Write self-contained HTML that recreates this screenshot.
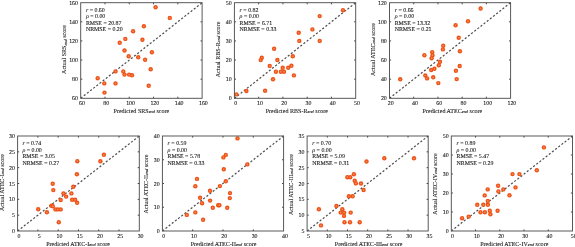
<!DOCTYPE html>
<html><head><meta charset="utf-8"><style>
html,body{margin:0;padding:0;background:#fff;}
body{width:575px;height:247px;overflow:hidden;}
svg{display:block;will-change:transform;}
text{font-family:"Liberation Serif",serif;fill:#111;stroke:#111;stroke-width:0.08px;text-rendering:geometricPrecision;}
.tl{font-size:5.9px;}
.st{font-size:5.9px;}
.al{font-size:6.05px;}
.sb{font-style:italic;font-size:4.36px;}
.bx{fill:none;stroke:#505050;stroke-width:0.95;}
.tk{fill:none;stroke:#333;stroke-width:0.9;}
.dl{stroke:#4a4a4a;stroke-width:1.2;stroke-dasharray:2.1 1.9;}
.d{fill:#ee5216;}
.dc{fill:#f58c5c;}
</style></head><body>
<svg width="575" height="247" viewBox="0 0 575 247">
<rect width="575" height="247" fill="#fff"/>
<g>
<g><line x1="80.70" y1="98.30" x2="202.10" y2="2.70" class="dl"/><circle cx="155.60" cy="7.30" r="2.2" class="d"/><circle cx="155.60" cy="7.30" r="0.85" class="dc"/><circle cx="169.80" cy="17.90" r="2.2" class="d"/><circle cx="169.80" cy="17.90" r="0.85" class="dc"/><circle cx="143.90" cy="26.30" r="2.2" class="d"/><circle cx="143.90" cy="26.30" r="0.85" class="dc"/><circle cx="133.10" cy="31.20" r="2.2" class="d"/><circle cx="133.10" cy="31.20" r="0.85" class="dc"/><circle cx="142.40" cy="39.80" r="2.2" class="d"/><circle cx="142.40" cy="39.80" r="0.85" class="dc"/><circle cx="125.30" cy="38.90" r="2.2" class="d"/><circle cx="125.30" cy="38.90" r="0.85" class="dc"/><circle cx="119.70" cy="42.70" r="2.2" class="d"/><circle cx="119.70" cy="42.70" r="0.85" class="dc"/><circle cx="124.50" cy="50.50" r="2.2" class="d"/><circle cx="124.50" cy="50.50" r="0.85" class="dc"/><circle cx="151.90" cy="52.30" r="2.2" class="d"/><circle cx="151.90" cy="52.30" r="0.85" class="dc"/><circle cx="128.70" cy="56.20" r="2.2" class="d"/><circle cx="128.70" cy="56.20" r="0.85" class="dc"/><circle cx="138.20" cy="57.30" r="2.2" class="d"/><circle cx="138.20" cy="57.30" r="0.85" class="dc"/><circle cx="145.10" cy="59.70" r="2.2" class="d"/><circle cx="145.10" cy="59.70" r="0.85" class="dc"/><circle cx="150.70" cy="69.30" r="2.2" class="d"/><circle cx="150.70" cy="69.30" r="0.85" class="dc"/><circle cx="132.00" cy="75.30" r="2.2" class="d"/><circle cx="132.00" cy="75.30" r="0.85" class="dc"/><circle cx="129.10" cy="74.60" r="2.2" class="d"/><circle cx="129.10" cy="74.60" r="0.85" class="dc"/><circle cx="124.50" cy="74.60" r="2.2" class="d"/><circle cx="124.50" cy="74.60" r="0.85" class="dc"/><circle cx="123.30" cy="71.40" r="2.2" class="d"/><circle cx="123.30" cy="71.40" r="0.85" class="dc"/><circle cx="115.50" cy="71.40" r="2.2" class="d"/><circle cx="115.50" cy="71.40" r="0.85" class="dc"/><circle cx="115.50" cy="83.40" r="2.2" class="d"/><circle cx="115.50" cy="83.40" r="0.85" class="dc"/><circle cx="97.70" cy="78.20" r="2.2" class="d"/><circle cx="97.70" cy="78.20" r="0.85" class="dc"/><circle cx="104.30" cy="83.40" r="2.2" class="d"/><circle cx="104.30" cy="83.40" r="0.85" class="dc"/><circle cx="104.50" cy="92.60" r="2.2" class="d"/><circle cx="104.50" cy="92.60" r="0.85" class="dc"/><circle cx="148.70" cy="85.80" r="2.2" class="d"/><circle cx="148.70" cy="85.80" r="0.85" class="dc"/><path d="M104.98 98.30v-1.6M104.98 2.70v1.6M80.70 79.18h1.6M202.10 79.18h-1.6M129.26 98.30v-1.6M129.26 2.70v1.6M80.70 60.06h1.6M202.10 60.06h-1.6M153.54 98.30v-1.6M153.54 2.70v1.6M80.70 40.94h1.6M202.10 40.94h-1.6M177.82 98.30v-1.6M177.82 2.70v1.6M80.70 21.82h1.6M202.10 21.82h-1.6" class="tk"/><rect x="80.70" y="2.70" width="121.40" height="95.60" class="bx"/><text x="82.00" y="105.00" class="tl" text-anchor="middle">60</text><text x="78.00" y="100.30" class="tl" text-anchor="end">60</text><text x="106.28" y="105.00" class="tl" text-anchor="middle">80</text><text x="78.00" y="81.18" class="tl" text-anchor="end">80</text><text x="130.56" y="105.00" class="tl" text-anchor="middle">100</text><text x="78.00" y="62.06" class="tl" text-anchor="end">100</text><text x="154.84" y="105.00" class="tl" text-anchor="middle">120</text><text x="78.00" y="42.94" class="tl" text-anchor="end">120</text><text x="179.12" y="105.00" class="tl" text-anchor="middle">140</text><text x="78.00" y="23.82" class="tl" text-anchor="end">140</text><text x="203.40" y="105.00" class="tl" text-anchor="middle">160</text><text x="78.00" y="4.70" class="tl" text-anchor="end">160</text><text x="85.90" y="11.50" class="st"><tspan font-style="italic">r</tspan> = 0.60</text><text x="85.90" y="18.00" class="st"><tspan font-style="italic">ρ</tspan> = 0.00</text><text x="85.90" y="24.50" class="st">RMSE = 20.87</text><text x="85.90" y="31.00" class="st">NRMSE = 0.20</text><text x="141.40" y="113.00" class="al" text-anchor="middle">Predicted SRS<tspan class="sb" dy="0.35">end</tspan><tspan dy="-0.35"> score</tspan></text><text transform="translate(66.20 49.50) rotate(-90)" class="al" text-anchor="middle">Actual SRS<tspan class="sb" dy="0.35">end</tspan><tspan dy="-0.35"> score</tspan></text></g>
<g><line x1="234.40" y1="98.30" x2="355.70" y2="2.70" class="dl"/><circle cx="343.00" cy="10.20" r="2.2" class="d"/><circle cx="343.00" cy="10.20" r="0.85" class="dc"/><circle cx="319.70" cy="16.10" r="2.2" class="d"/><circle cx="319.70" cy="16.10" r="0.85" class="dc"/><circle cx="298.70" cy="32.80" r="2.2" class="d"/><circle cx="298.70" cy="32.80" r="0.85" class="dc"/><circle cx="312.40" cy="29.40" r="2.2" class="d"/><circle cx="312.40" cy="29.40" r="0.85" class="dc"/><circle cx="299.30" cy="40.90" r="2.2" class="d"/><circle cx="299.30" cy="40.90" r="0.85" class="dc"/><circle cx="319.70" cy="40.90" r="2.2" class="d"/><circle cx="319.70" cy="40.90" r="0.85" class="dc"/><circle cx="274.10" cy="48.70" r="2.2" class="d"/><circle cx="274.10" cy="48.70" r="0.85" class="dc"/><circle cx="261.80" cy="57.80" r="2.2" class="d"/><circle cx="261.80" cy="57.80" r="0.85" class="dc"/><circle cx="260.70" cy="60.10" r="2.2" class="d"/><circle cx="260.70" cy="60.10" r="0.85" class="dc"/><circle cx="277.40" cy="60.00" r="2.2" class="d"/><circle cx="277.40" cy="60.00" r="0.85" class="dc"/><circle cx="292.80" cy="56.30" r="2.2" class="d"/><circle cx="292.80" cy="56.30" r="0.85" class="dc"/><circle cx="269.70" cy="65.90" r="2.2" class="d"/><circle cx="269.70" cy="65.90" r="0.85" class="dc"/><circle cx="273.00" cy="79.30" r="2.2" class="d"/><circle cx="273.00" cy="79.30" r="0.85" class="dc"/><circle cx="275.90" cy="71.70" r="2.2" class="d"/><circle cx="275.90" cy="71.70" r="0.85" class="dc"/><circle cx="280.90" cy="71.70" r="2.2" class="d"/><circle cx="280.90" cy="71.70" r="0.85" class="dc"/><circle cx="282.70" cy="67.80" r="2.2" class="d"/><circle cx="282.70" cy="67.80" r="0.85" class="dc"/><circle cx="284.00" cy="71.70" r="2.2" class="d"/><circle cx="284.00" cy="71.70" r="0.85" class="dc"/><circle cx="288.20" cy="67.80" r="2.2" class="d"/><circle cx="288.20" cy="67.80" r="0.85" class="dc"/><circle cx="291.40" cy="65.80" r="2.2" class="d"/><circle cx="291.40" cy="65.80" r="0.85" class="dc"/><circle cx="293.90" cy="75.40" r="2.2" class="d"/><circle cx="293.90" cy="75.40" r="0.85" class="dc"/><circle cx="236.40" cy="94.40" r="2.2" class="d"/><circle cx="236.40" cy="94.40" r="0.85" class="dc"/><circle cx="246.40" cy="91.00" r="2.2" class="d"/><circle cx="246.40" cy="91.00" r="0.85" class="dc"/><circle cx="265.10" cy="90.80" r="2.2" class="d"/><circle cx="265.10" cy="90.80" r="0.85" class="dc"/><path d="M258.66 98.30v-1.6M258.66 2.70v1.6M234.40 79.18h1.6M355.70 79.18h-1.6M282.92 98.30v-1.6M282.92 2.70v1.6M234.40 60.06h1.6M355.70 60.06h-1.6M307.18 98.30v-1.6M307.18 2.70v1.6M234.40 40.94h1.6M355.70 40.94h-1.6M331.44 98.30v-1.6M331.44 2.70v1.6M234.40 21.82h1.6M355.70 21.82h-1.6" class="tk"/><rect x="234.40" y="2.70" width="121.30" height="95.60" class="bx"/><text x="235.70" y="105.00" class="tl" text-anchor="middle">0</text><text x="231.70" y="100.30" class="tl" text-anchor="end">0</text><text x="259.96" y="105.00" class="tl" text-anchor="middle">10</text><text x="231.70" y="81.18" class="tl" text-anchor="end">10</text><text x="284.22" y="105.00" class="tl" text-anchor="middle">20</text><text x="231.70" y="62.06" class="tl" text-anchor="end">20</text><text x="308.48" y="105.00" class="tl" text-anchor="middle">30</text><text x="231.70" y="42.94" class="tl" text-anchor="end">30</text><text x="332.74" y="105.00" class="tl" text-anchor="middle">40</text><text x="231.70" y="23.82" class="tl" text-anchor="end">40</text><text x="357.00" y="105.00" class="tl" text-anchor="middle">50</text><text x="231.70" y="4.70" class="tl" text-anchor="end">50</text><text x="239.60" y="11.50" class="st"><tspan font-style="italic">r</tspan> = 0.82</text><text x="239.60" y="18.00" class="st"><tspan font-style="italic">ρ</tspan> = 0.00</text><text x="239.60" y="24.50" class="st">RMSE = 6.71</text><text x="239.60" y="31.00" class="st">NRMSE = 0.33</text><text x="296.85" y="113.00" class="al" text-anchor="middle">Predicted RBS-R<tspan class="sb" dy="0.35">end</tspan><tspan dy="-0.35"> score</tspan></text><text transform="translate(219.90 49.50) rotate(-90)" class="al" text-anchor="middle">Actual RBS-R<tspan class="sb" dy="0.35">end</tspan><tspan dy="-0.35"> score</tspan></text></g>
<g><line x1="389.50" y1="98.30" x2="510.60" y2="2.70" class="dl"/><circle cx="480.60" cy="8.50" r="2.2" class="d"/><circle cx="480.60" cy="8.50" r="0.85" class="dc"/><circle cx="468.00" cy="21.20" r="2.2" class="d"/><circle cx="468.00" cy="21.20" r="0.85" class="dc"/><circle cx="455.60" cy="25.30" r="2.2" class="d"/><circle cx="455.60" cy="25.30" r="0.85" class="dc"/><circle cx="458.70" cy="37.70" r="2.2" class="d"/><circle cx="458.70" cy="37.70" r="0.85" class="dc"/><circle cx="443.20" cy="45.70" r="2.2" class="d"/><circle cx="443.20" cy="45.70" r="0.85" class="dc"/><circle cx="442.90" cy="49.40" r="2.2" class="d"/><circle cx="442.90" cy="49.40" r="0.85" class="dc"/><circle cx="459.90" cy="51.30" r="2.2" class="d"/><circle cx="459.90" cy="51.30" r="0.85" class="dc"/><circle cx="424.40" cy="55.20" r="2.2" class="d"/><circle cx="424.40" cy="55.20" r="0.85" class="dc"/><circle cx="432.20" cy="52.20" r="2.2" class="d"/><circle cx="432.20" cy="52.20" r="0.85" class="dc"/><circle cx="432.50" cy="55.40" r="2.2" class="d"/><circle cx="432.50" cy="55.40" r="0.85" class="dc"/><circle cx="431.60" cy="58.20" r="2.2" class="d"/><circle cx="431.60" cy="58.20" r="0.85" class="dc"/><circle cx="440.00" cy="61.80" r="2.2" class="d"/><circle cx="440.00" cy="61.80" r="0.85" class="dc"/><circle cx="438.80" cy="65.20" r="2.2" class="d"/><circle cx="438.80" cy="65.20" r="0.85" class="dc"/><circle cx="431.20" cy="70.00" r="2.2" class="d"/><circle cx="431.20" cy="70.00" r="0.85" class="dc"/><circle cx="434.40" cy="68.80" r="2.2" class="d"/><circle cx="434.40" cy="68.80" r="0.85" class="dc"/><circle cx="459.70" cy="66.00" r="2.2" class="d"/><circle cx="459.70" cy="66.00" r="0.85" class="dc"/><circle cx="455.90" cy="70.70" r="2.2" class="d"/><circle cx="455.90" cy="70.70" r="0.85" class="dc"/><circle cx="456.70" cy="79.10" r="2.2" class="d"/><circle cx="456.70" cy="79.10" r="0.85" class="dc"/><circle cx="400.20" cy="79.30" r="2.2" class="d"/><circle cx="400.20" cy="79.30" r="0.85" class="dc"/><circle cx="425.30" cy="75.50" r="2.2" class="d"/><circle cx="425.30" cy="75.50" r="0.85" class="dc"/><circle cx="427.10" cy="78.40" r="2.2" class="d"/><circle cx="427.10" cy="78.40" r="0.85" class="dc"/><circle cx="433.20" cy="77.30" r="2.2" class="d"/><circle cx="433.20" cy="77.30" r="0.85" class="dc"/><circle cx="438.30" cy="83.10" r="2.2" class="d"/><circle cx="438.30" cy="83.10" r="0.85" class="dc"/><path d="M413.72 98.30v-1.6M413.72 2.70v1.6M389.50 79.18h1.6M510.60 79.18h-1.6M437.94 98.30v-1.6M437.94 2.70v1.6M389.50 60.06h1.6M510.60 60.06h-1.6M462.16 98.30v-1.6M462.16 2.70v1.6M389.50 40.94h1.6M510.60 40.94h-1.6M486.38 98.30v-1.6M486.38 2.70v1.6M389.50 21.82h1.6M510.60 21.82h-1.6" class="tk"/><rect x="389.50" y="2.70" width="121.10" height="95.60" class="bx"/><text x="390.80" y="105.00" class="tl" text-anchor="middle">20</text><text x="386.80" y="100.30" class="tl" text-anchor="end">20</text><text x="415.02" y="105.00" class="tl" text-anchor="middle">40</text><text x="386.80" y="81.18" class="tl" text-anchor="end">40</text><text x="439.24" y="105.00" class="tl" text-anchor="middle">60</text><text x="386.80" y="62.06" class="tl" text-anchor="end">60</text><text x="463.46" y="105.00" class="tl" text-anchor="middle">80</text><text x="386.80" y="42.94" class="tl" text-anchor="end">80</text><text x="487.68" y="105.00" class="tl" text-anchor="middle">100</text><text x="386.80" y="23.82" class="tl" text-anchor="end">100</text><text x="511.90" y="105.00" class="tl" text-anchor="middle">120</text><text x="386.80" y="4.70" class="tl" text-anchor="end">120</text><text x="394.70" y="11.50" class="st"><tspan font-style="italic">r</tspan> = 0.66</text><text x="394.70" y="18.00" class="st"><tspan font-style="italic">ρ</tspan> = 0.00</text><text x="394.70" y="24.50" class="st">RMSE = 13.32</text><text x="394.70" y="31.00" class="st">NRMSE = 0.21</text><text x="452.45" y="113.00" class="al" text-anchor="middle">Predicted ATEC<tspan class="sb" dy="0.35">end</tspan><tspan dy="-0.35"> score</tspan></text><text transform="translate(375.00 49.50) rotate(-90)" class="al" text-anchor="middle">Actual ATEC<tspan class="sb" dy="0.35">end</tspan><tspan dy="-0.35"> score</tspan></text></g>
<g><line x1="17.60" y1="231.00" x2="139.30" y2="136.00" class="dl"/><circle cx="52.70" cy="183.70" r="2.2" class="d"/><circle cx="52.70" cy="183.70" r="0.85" class="dc"/><circle cx="103.90" cy="154.80" r="2.2" class="d"/><circle cx="103.90" cy="154.80" r="0.85" class="dc"/><circle cx="100.40" cy="161.30" r="2.2" class="d"/><circle cx="100.40" cy="161.30" r="0.85" class="dc"/><circle cx="77.30" cy="161.20" r="2.2" class="d"/><circle cx="77.30" cy="161.20" r="0.85" class="dc"/><circle cx="76.90" cy="174.30" r="2.2" class="d"/><circle cx="76.90" cy="174.30" r="0.85" class="dc"/><circle cx="73.30" cy="186.80" r="2.2" class="d"/><circle cx="73.30" cy="186.80" r="0.85" class="dc"/><circle cx="53.30" cy="190.10" r="2.2" class="d"/><circle cx="53.30" cy="190.10" r="0.85" class="dc"/><circle cx="63.50" cy="193.40" r="2.2" class="d"/><circle cx="63.50" cy="193.40" r="0.85" class="dc"/><circle cx="66.10" cy="196.60" r="2.2" class="d"/><circle cx="66.10" cy="196.60" r="0.85" class="dc"/><circle cx="71.40" cy="193.40" r="2.2" class="d"/><circle cx="71.40" cy="193.40" r="0.85" class="dc"/><circle cx="60.70" cy="200.00" r="2.2" class="d"/><circle cx="60.70" cy="200.00" r="0.85" class="dc"/><circle cx="72.10" cy="199.80" r="2.2" class="d"/><circle cx="72.10" cy="199.80" r="0.85" class="dc"/><circle cx="75.10" cy="199.80" r="2.2" class="d"/><circle cx="75.10" cy="199.80" r="0.85" class="dc"/><circle cx="77.10" cy="202.80" r="2.2" class="d"/><circle cx="77.10" cy="202.80" r="0.85" class="dc"/><circle cx="51.40" cy="205.80" r="2.2" class="d"/><circle cx="51.40" cy="205.80" r="0.85" class="dc"/><circle cx="52.80" cy="206.30" r="2.2" class="d"/><circle cx="52.80" cy="206.30" r="0.85" class="dc"/><circle cx="38.20" cy="209.30" r="2.2" class="d"/><circle cx="38.20" cy="209.30" r="0.85" class="dc"/><circle cx="46.90" cy="212.30" r="2.2" class="d"/><circle cx="46.90" cy="212.30" r="0.85" class="dc"/><circle cx="55.40" cy="209.40" r="2.2" class="d"/><circle cx="55.40" cy="209.40" r="0.85" class="dc"/><circle cx="57.80" cy="209.40" r="2.2" class="d"/><circle cx="57.80" cy="209.40" r="0.85" class="dc"/><circle cx="60.70" cy="209.40" r="2.2" class="d"/><circle cx="60.70" cy="209.40" r="0.85" class="dc"/><circle cx="58.80" cy="222.20" r="2.2" class="d"/><circle cx="58.80" cy="222.20" r="0.85" class="dc"/><path d="M37.88 231.00v-1.6M37.88 136.00v1.6M17.60 215.17h1.6M139.30 215.17h-1.6M58.17 231.00v-1.6M58.17 136.00v1.6M17.60 199.33h1.6M139.30 199.33h-1.6M78.45 231.00v-1.6M78.45 136.00v1.6M17.60 183.50h1.6M139.30 183.50h-1.6M98.73 231.00v-1.6M98.73 136.00v1.6M17.60 167.67h1.6M139.30 167.67h-1.6M119.02 231.00v-1.6M119.02 136.00v1.6M17.60 151.83h1.6M139.30 151.83h-1.6" class="tk"/><rect x="17.60" y="136.00" width="121.70" height="95.00" class="bx"/><text x="18.90" y="237.70" class="tl" text-anchor="middle">0</text><text x="14.90" y="233.00" class="tl" text-anchor="end">0</text><text x="39.18" y="237.70" class="tl" text-anchor="middle">5</text><text x="14.90" y="217.17" class="tl" text-anchor="end">5</text><text x="59.47" y="237.70" class="tl" text-anchor="middle">10</text><text x="14.90" y="201.33" class="tl" text-anchor="end">10</text><text x="79.75" y="237.70" class="tl" text-anchor="middle">15</text><text x="14.90" y="185.50" class="tl" text-anchor="end">15</text><text x="100.03" y="237.70" class="tl" text-anchor="middle">20</text><text x="14.90" y="169.67" class="tl" text-anchor="end">20</text><text x="120.32" y="237.70" class="tl" text-anchor="middle">25</text><text x="14.90" y="153.83" class="tl" text-anchor="end">25</text><text x="140.60" y="237.70" class="tl" text-anchor="middle">30</text><text x="14.90" y="138.00" class="tl" text-anchor="end">30</text><text x="22.40" y="145.30" class="st"><tspan font-style="italic">r</tspan> = 0.74</text><text x="22.40" y="151.80" class="st"><tspan font-style="italic">ρ</tspan> = 0.00</text><text x="22.40" y="158.30" class="st">RMSE = 3.05</text><text x="22.40" y="164.80" class="st">NRMSE = 0.27</text><text x="78.05" y="245.70" class="al" text-anchor="middle">Predicted ATEC-I<tspan class="sb" dy="0.35">end</tspan><tspan dy="-0.35"> score</tspan></text><text transform="translate(3.70 182.50) rotate(-90)" class="al" text-anchor="middle">Actual ATEC-I<tspan class="sb" dy="0.35">end</tspan><tspan dy="-0.35"> score</tspan></text></g>
<g><line x1="162.40" y1="231.00" x2="283.60" y2="136.00" class="dl"/><circle cx="237.50" cy="138.40" r="2.2" class="d"/><circle cx="237.50" cy="138.40" r="0.85" class="dc"/><circle cx="225.80" cy="154.90" r="2.2" class="d"/><circle cx="225.80" cy="154.90" r="0.85" class="dc"/><circle cx="223.40" cy="157.40" r="2.2" class="d"/><circle cx="223.40" cy="157.40" r="0.85" class="dc"/><circle cx="223.80" cy="169.30" r="2.2" class="d"/><circle cx="223.80" cy="169.30" r="0.85" class="dc"/><circle cx="247.30" cy="164.40" r="2.2" class="d"/><circle cx="247.30" cy="164.40" r="0.85" class="dc"/><circle cx="225.80" cy="181.30" r="2.2" class="d"/><circle cx="225.80" cy="181.30" r="0.85" class="dc"/><circle cx="197.00" cy="178.90" r="2.2" class="d"/><circle cx="197.00" cy="178.90" r="0.85" class="dc"/><circle cx="195.30" cy="186.20" r="2.2" class="d"/><circle cx="195.30" cy="186.20" r="0.85" class="dc"/><circle cx="219.90" cy="186.10" r="2.2" class="d"/><circle cx="219.90" cy="186.10" r="0.85" class="dc"/><circle cx="210.00" cy="190.80" r="2.2" class="d"/><circle cx="210.00" cy="190.80" r="0.85" class="dc"/><circle cx="200.10" cy="197.80" r="2.2" class="d"/><circle cx="200.10" cy="197.80" r="0.85" class="dc"/><circle cx="202.10" cy="203.20" r="2.2" class="d"/><circle cx="202.10" cy="203.20" r="0.85" class="dc"/><circle cx="210.10" cy="200.60" r="2.2" class="d"/><circle cx="210.10" cy="200.60" r="0.85" class="dc"/><circle cx="212.80" cy="207.80" r="2.2" class="d"/><circle cx="212.80" cy="207.80" r="0.85" class="dc"/><circle cx="218.20" cy="205.20" r="2.2" class="d"/><circle cx="218.20" cy="205.20" r="0.85" class="dc"/><circle cx="219.40" cy="205.20" r="2.2" class="d"/><circle cx="219.40" cy="205.20" r="0.85" class="dc"/><circle cx="227.20" cy="207.80" r="2.2" class="d"/><circle cx="227.20" cy="207.80" r="0.85" class="dc"/><circle cx="230.00" cy="193.10" r="2.2" class="d"/><circle cx="230.00" cy="193.10" r="0.85" class="dc"/><circle cx="229.80" cy="198.10" r="2.2" class="d"/><circle cx="229.80" cy="198.10" r="0.85" class="dc"/><circle cx="186.80" cy="214.90" r="2.2" class="d"/><circle cx="186.80" cy="214.90" r="0.85" class="dc"/><circle cx="195.30" cy="212.40" r="2.2" class="d"/><circle cx="195.30" cy="212.40" r="0.85" class="dc"/><circle cx="203.10" cy="219.70" r="2.2" class="d"/><circle cx="203.10" cy="219.70" r="0.85" class="dc"/><path d="M192.70 231.00v-1.6M192.70 136.00v1.6M162.40 207.25h1.6M283.60 207.25h-1.6M223.00 231.00v-1.6M223.00 136.00v1.6M162.40 183.50h1.6M283.60 183.50h-1.6M253.30 231.00v-1.6M253.30 136.00v1.6M162.40 159.75h1.6M283.60 159.75h-1.6" class="tk"/><rect x="162.40" y="136.00" width="121.20" height="95.00" class="bx"/><text x="163.70" y="237.70" class="tl" text-anchor="middle">0</text><text x="159.70" y="233.00" class="tl" text-anchor="end">0</text><text x="194.00" y="237.70" class="tl" text-anchor="middle">10</text><text x="159.70" y="209.25" class="tl" text-anchor="end">10</text><text x="224.30" y="237.70" class="tl" text-anchor="middle">20</text><text x="159.70" y="185.50" class="tl" text-anchor="end">20</text><text x="254.60" y="237.70" class="tl" text-anchor="middle">30</text><text x="159.70" y="161.75" class="tl" text-anchor="end">30</text><text x="284.90" y="237.70" class="tl" text-anchor="middle">40</text><text x="159.70" y="138.00" class="tl" text-anchor="end">40</text><text x="167.60" y="145.30" class="st"><tspan font-style="italic">r</tspan> = 0.59</text><text x="167.60" y="151.80" class="st"><tspan font-style="italic">ρ</tspan> = 0.00</text><text x="167.60" y="158.30" class="st">RMSE = 5.78</text><text x="167.60" y="164.80" class="st">NRMSE = 0.33</text><text x="223.60" y="245.70" class="al" text-anchor="middle">Predicted ATEC-II<tspan class="sb" dy="0.35">end</tspan><tspan dy="-0.35"> score</tspan></text><text transform="translate(147.90 184.00) rotate(-90)" class="al" text-anchor="middle">Actual ATEC-II<tspan class="sb" dy="0.35">end</tspan><tspan dy="-0.35"> score</tspan></text></g>
<g><line x1="307.10" y1="231.00" x2="428.20" y2="136.00" class="dl"/><circle cx="366.50" cy="161.50" r="2.2" class="d"/><circle cx="366.50" cy="161.50" r="0.85" class="dc"/><circle cx="384.30" cy="158.30" r="2.2" class="d"/><circle cx="384.30" cy="158.30" r="0.85" class="dc"/><circle cx="414.00" cy="158.30" r="2.2" class="d"/><circle cx="414.00" cy="158.30" r="0.85" class="dc"/><circle cx="353.90" cy="174.20" r="2.2" class="d"/><circle cx="353.90" cy="174.20" r="0.85" class="dc"/><circle cx="347.40" cy="177.20" r="2.2" class="d"/><circle cx="347.40" cy="177.20" r="0.85" class="dc"/><circle cx="350.20" cy="177.20" r="2.2" class="d"/><circle cx="350.20" cy="177.20" r="0.85" class="dc"/><circle cx="354.70" cy="180.80" r="2.2" class="d"/><circle cx="354.70" cy="180.80" r="0.85" class="dc"/><circle cx="355.90" cy="183.40" r="2.2" class="d"/><circle cx="355.90" cy="183.40" r="0.85" class="dc"/><circle cx="361.00" cy="183.50" r="2.2" class="d"/><circle cx="361.00" cy="183.50" r="0.85" class="dc"/><circle cx="363.60" cy="190.00" r="2.2" class="d"/><circle cx="363.60" cy="190.00" r="0.85" class="dc"/><circle cx="348.90" cy="196.30" r="2.2" class="d"/><circle cx="348.90" cy="196.30" r="0.85" class="dc"/><circle cx="352.60" cy="196.30" r="2.2" class="d"/><circle cx="352.60" cy="196.30" r="0.85" class="dc"/><circle cx="318.90" cy="209.30" r="2.2" class="d"/><circle cx="318.90" cy="209.30" r="0.85" class="dc"/><circle cx="336.40" cy="206.00" r="2.2" class="d"/><circle cx="336.40" cy="206.00" r="0.85" class="dc"/><circle cx="342.30" cy="209.30" r="2.2" class="d"/><circle cx="342.30" cy="209.30" r="0.85" class="dc"/><circle cx="340.70" cy="212.60" r="2.2" class="d"/><circle cx="340.70" cy="212.60" r="0.85" class="dc"/><circle cx="344.10" cy="212.60" r="2.2" class="d"/><circle cx="344.10" cy="212.60" r="0.85" class="dc"/><circle cx="344.00" cy="215.90" r="2.2" class="d"/><circle cx="344.00" cy="215.90" r="0.85" class="dc"/><circle cx="350.70" cy="212.60" r="2.2" class="d"/><circle cx="350.70" cy="212.60" r="0.85" class="dc"/><circle cx="344.50" cy="222.20" r="2.2" class="d"/><circle cx="344.50" cy="222.20" r="0.85" class="dc"/><circle cx="350.00" cy="222.20" r="2.2" class="d"/><circle cx="350.00" cy="222.20" r="0.85" class="dc"/><circle cx="359.70" cy="222.20" r="2.2" class="d"/><circle cx="359.70" cy="222.20" r="0.85" class="dc"/><circle cx="321.00" cy="225.40" r="2.2" class="d"/><circle cx="321.00" cy="225.40" r="0.85" class="dc"/><path d="M327.28 231.00v-1.6M327.28 136.00v1.6M307.10 215.17h1.6M428.20 215.17h-1.6M347.47 231.00v-1.6M347.47 136.00v1.6M307.10 199.33h1.6M428.20 199.33h-1.6M367.65 231.00v-1.6M367.65 136.00v1.6M307.10 183.50h1.6M428.20 183.50h-1.6M387.83 231.00v-1.6M387.83 136.00v1.6M307.10 167.67h1.6M428.20 167.67h-1.6M408.02 231.00v-1.6M408.02 136.00v1.6M307.10 151.83h1.6M428.20 151.83h-1.6" class="tk"/><rect x="307.10" y="136.00" width="121.10" height="95.00" class="bx"/><text x="308.40" y="237.70" class="tl" text-anchor="middle">5</text><text x="304.40" y="233.00" class="tl" text-anchor="end">5</text><text x="328.58" y="237.70" class="tl" text-anchor="middle">10</text><text x="304.40" y="217.17" class="tl" text-anchor="end">10</text><text x="348.77" y="237.70" class="tl" text-anchor="middle">15</text><text x="304.40" y="201.33" class="tl" text-anchor="end">15</text><text x="368.95" y="237.70" class="tl" text-anchor="middle">20</text><text x="304.40" y="185.50" class="tl" text-anchor="end">20</text><text x="389.13" y="237.70" class="tl" text-anchor="middle">25</text><text x="304.40" y="169.67" class="tl" text-anchor="end">25</text><text x="409.32" y="237.70" class="tl" text-anchor="middle">30</text><text x="304.40" y="153.83" class="tl" text-anchor="end">30</text><text x="429.50" y="237.70" class="tl" text-anchor="middle">35</text><text x="304.40" y="138.00" class="tl" text-anchor="end">35</text><text x="312.30" y="145.30" class="st"><tspan font-style="italic">r</tspan> = 0.70</text><text x="312.30" y="151.80" class="st"><tspan font-style="italic">ρ</tspan> = 0.00</text><text x="312.30" y="158.30" class="st">RMSE = 5.09</text><text x="312.30" y="164.80" class="st">NRMSE = 0.31</text><text x="368.65" y="245.70" class="al" text-anchor="middle">Predicted ATEC-III<tspan class="sb" dy="0.35">end</tspan><tspan dy="-0.35"> score</tspan></text><text transform="translate(292.60 184.50) rotate(-90)" class="al" text-anchor="middle">Actual ATEC-III<tspan class="sb" dy="0.35">end</tspan><tspan dy="-0.35"> score</tspan></text></g>
<g><line x1="451.30" y1="231.00" x2="572.50" y2="136.00" class="dl"/><circle cx="543.90" cy="147.40" r="2.2" class="d"/><circle cx="543.90" cy="147.40" r="0.85" class="dc"/><circle cx="536.80" cy="170.30" r="2.2" class="d"/><circle cx="536.80" cy="170.30" r="0.85" class="dc"/><circle cx="512.50" cy="174.10" r="2.2" class="d"/><circle cx="512.50" cy="174.10" r="0.85" class="dc"/><circle cx="519.40" cy="174.10" r="2.2" class="d"/><circle cx="519.40" cy="174.10" r="0.85" class="dc"/><circle cx="515.50" cy="187.40" r="2.2" class="d"/><circle cx="515.50" cy="187.40" r="0.85" class="dc"/><circle cx="498.10" cy="185.70" r="2.2" class="d"/><circle cx="498.10" cy="185.70" r="0.85" class="dc"/><circle cx="498.40" cy="191.40" r="2.2" class="d"/><circle cx="498.40" cy="191.40" r="0.85" class="dc"/><circle cx="503.30" cy="189.40" r="2.2" class="d"/><circle cx="503.30" cy="189.40" r="0.85" class="dc"/><circle cx="487.70" cy="189.40" r="2.2" class="d"/><circle cx="487.70" cy="189.40" r="0.85" class="dc"/><circle cx="484.70" cy="195.40" r="2.2" class="d"/><circle cx="484.70" cy="195.40" r="0.85" class="dc"/><circle cx="509.50" cy="195.30" r="2.2" class="d"/><circle cx="509.50" cy="195.30" r="0.85" class="dc"/><circle cx="487.80" cy="200.90" r="2.2" class="d"/><circle cx="487.80" cy="200.90" r="0.85" class="dc"/><circle cx="477.20" cy="204.80" r="2.2" class="d"/><circle cx="477.20" cy="204.80" r="0.85" class="dc"/><circle cx="483.30" cy="204.80" r="2.2" class="d"/><circle cx="483.30" cy="204.80" r="0.85" class="dc"/><circle cx="487.90" cy="204.80" r="2.2" class="d"/><circle cx="487.90" cy="204.80" r="0.85" class="dc"/><circle cx="480.50" cy="212.20" r="2.2" class="d"/><circle cx="480.50" cy="212.20" r="0.85" class="dc"/><circle cx="484.90" cy="212.20" r="2.2" class="d"/><circle cx="484.90" cy="212.20" r="0.85" class="dc"/><circle cx="489.80" cy="210.70" r="2.2" class="d"/><circle cx="489.80" cy="210.70" r="0.85" class="dc"/><circle cx="490.40" cy="214.30" r="2.2" class="d"/><circle cx="490.40" cy="214.30" r="0.85" class="dc"/><circle cx="497.60" cy="210.70" r="2.2" class="d"/><circle cx="497.60" cy="210.70" r="0.85" class="dc"/><circle cx="462.10" cy="218.20" r="2.2" class="d"/><circle cx="462.10" cy="218.20" r="0.85" class="dc"/><circle cx="468.70" cy="216.60" r="2.2" class="d"/><circle cx="468.70" cy="216.60" r="0.85" class="dc"/><path d="M475.54 231.00v-1.6M475.54 136.00v1.6M451.30 212.00h1.6M572.50 212.00h-1.6M499.78 231.00v-1.6M499.78 136.00v1.6M451.30 193.00h1.6M572.50 193.00h-1.6M524.02 231.00v-1.6M524.02 136.00v1.6M451.30 174.00h1.6M572.50 174.00h-1.6M548.26 231.00v-1.6M548.26 136.00v1.6M451.30 155.00h1.6M572.50 155.00h-1.6" class="tk"/><rect x="451.30" y="136.00" width="121.20" height="95.00" class="bx"/><text x="452.60" y="237.70" class="tl" text-anchor="middle">0</text><text x="448.60" y="233.00" class="tl" text-anchor="end">0</text><text x="476.84" y="237.70" class="tl" text-anchor="middle">10</text><text x="448.60" y="214.00" class="tl" text-anchor="end">10</text><text x="501.08" y="237.70" class="tl" text-anchor="middle">20</text><text x="448.60" y="195.00" class="tl" text-anchor="end">20</text><text x="525.32" y="237.70" class="tl" text-anchor="middle">30</text><text x="448.60" y="176.00" class="tl" text-anchor="end">30</text><text x="549.56" y="237.70" class="tl" text-anchor="middle">40</text><text x="448.60" y="157.00" class="tl" text-anchor="end">40</text><text x="573.80" y="237.70" class="tl" text-anchor="middle">50</text><text x="448.60" y="138.00" class="tl" text-anchor="end">50</text><text x="456.50" y="145.30" class="st"><tspan font-style="italic">r</tspan> = 0.89</text><text x="456.50" y="151.80" class="st"><tspan font-style="italic">ρ</tspan> = 0.00</text><text x="456.50" y="158.30" class="st">RMSE = 5.47</text><text x="456.50" y="164.80" class="st">NRMSE = 0.29</text><text x="514.30" y="245.70" class="al" text-anchor="middle">Predicted ATEC-IV<tspan class="sb" dy="0.35">end</tspan><tspan dy="-0.35"> score</tspan></text><text transform="translate(436.80 184.00) rotate(-90)" class="al" text-anchor="middle">Actual ATEC-IV<tspan class="sb" dy="0.35">end</tspan><tspan dy="-0.35"> score</tspan></text></g>
</g>
</svg>
</body></html>
